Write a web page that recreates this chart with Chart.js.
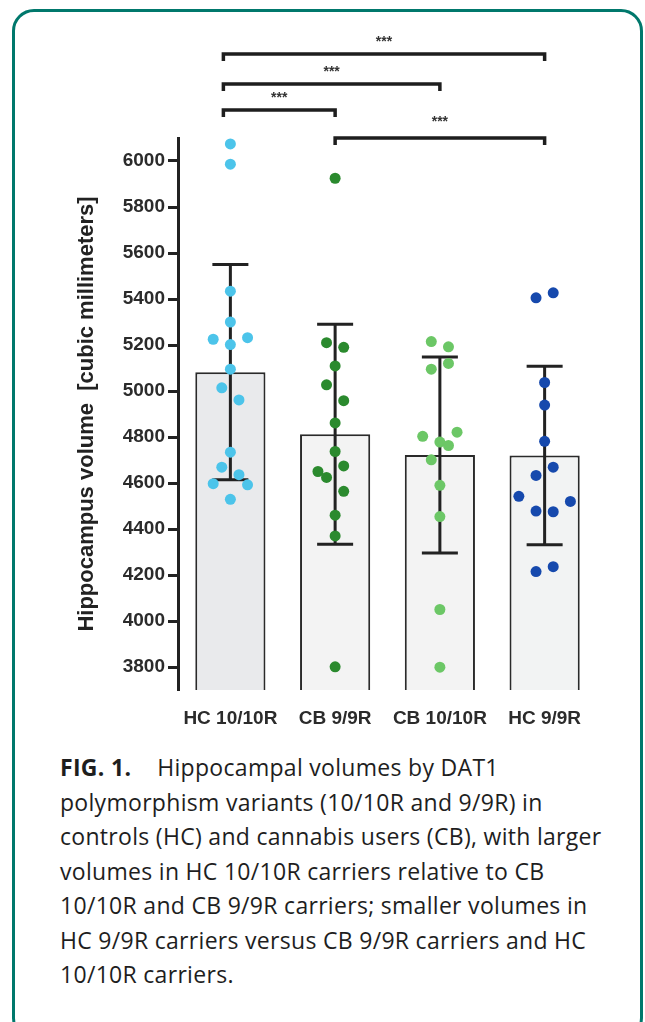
<!DOCTYPE html>
<html>
<head>
<meta charset="utf-8">
<script src="https://cdn.jsdelivr.net/npm/chart.js@4.4.0/dist/chart.umd.min.js"></script>
<style>
  body { margin: 0; background: #fff; }
  #frame { position: absolute; left: 12px; top: 9px; width: 625px; height: 1025px; border: 3px solid #00786c; border-radius: 22px; }
  #wrap { position: absolute; left: 0; top: 0; width: 645px; height: 740px; }
  #caption { position: absolute; left: 60px; top: 750px; font-family: 'Open Sans', sans-serif; font-size: 23px; letter-spacing: 0.3px; line-height: 34.5px; color: #1e1e1e; white-space: nowrap; }
  #caption b { margin-right: 26px; }
</style>
</head>
<body>
<div id="frame"></div>
<div id="wrap"><canvas id="chart" width="645" height="740"></canvas></div>
<div id="caption">
  <b>FIG. 1.</b>Hippocampal volumes by DAT1<br>
  polymorphism variants (10/10R and 9/9R) in<br>
  controls (HC) and cannabis users (CB), with larger<br>
  volumes in HC 10/10R carriers relative to CB<br>
  10/10R and CB 9/9R carriers; smaller volumes in<br>
  HC 9/9R carriers versus CB 9/9R carriers and HC<br>
  10/10R carriers.
</div>
<script>
document.addEventListener('DOMContentLoaded', () => {
    const groups = ['HC 10/10R', 'CB 9/9R', 'CB 10/10R', 'HC 9/9R'];
    const means = [5082, 4812, 4722, 4720];
    const sds = [468, 478, 426, 388];
    const yTicks = [3800, 4000, 4200, 4400, 4600, 4800, 5000, 5200, 5400, 5600, 5800, 6000];

    // individual subjects, lane = horizontal slot of the dot inside its bar
    const hc1010 = [6074, 5986, 5434, 5300, 5225, 5232, 5202, 5095, 5014, 4961, 4734, 4669, 4636, 4597, 4592, 4529];
    const hc1010Lane = [0, 0, 0, 0, -2, 2, 0, 0, -1, 1, 0, -1, 1, -2, 2, 0];
    const cb99 = [5925, 5210, 5190, 5109, 5027, 4958, 4861, 4737, 4650, 4624, 4674, 4564, 4460, 4370, 3801];
    const cb99Lane = [0, -1, 1, 0, -1, 1, 0, 0, -2, -1, 1, 1, 0, 0, 0];
    const cb1010 = [5215, 5192, 5095, 5120, 4803, 4821, 4778, 4763, 4701, 4590, 4454, 4050, 3799];
    const cb1010Lane = [-1, 1, -1, 1, -2, 2, 0, 1, -1, 0, 0, 0, 0];
    const hc99 = [5405, 5427, 5037, 4939, 4781, 4669, 4633, 4542, 4520, 4478, 4475, 4215, 4236];
    const hc99Lane = [-1, 1, 0, 0, 0, 1, -1, -3, 3, -1, 1, -1, 1];

    // significance brackets (pairs of group indexes) and their labels
    const comparisons = [[0, 3], [0, 2], [0, 1], [1, 3]];
    const pLabels = ['***', '***', '***', '***'];

    const laneStep = 0.082;
    const colors = ['#4cc4ea', '#2b8a2e', '#6cc766', '#1649ad'];
    const points = [[hc1010, hc1010Lane], [cb99, cb99Lane], [cb1010, cb1010Lane], [hc99, hc99Lane]];

    const scatterSets = points.map(([vals, lanes], i) => ({
        type: 'scatter',
        xAxisID: 'xp',
        order: 1,
        data: vals.map((v, k) => ({ x: i + lanes[k] * laneStep, y: v })),
        backgroundColor: colors[i],
        pointRadius: 5.5,
        pointBorderWidth: 0
    }));

    // error bars, drawn right after the bars so the dots stay on top
    const errorBars = {
        id: 'errorBars',
        afterDatasetDraw(chart, args) {
            if (args.index !== 0) return;
            const ctx = chart.ctx;
            const y = chart.scales.y;
            ctx.save();
            ctx.strokeStyle = '#222';
            ctx.lineWidth = 3;
            chart.getDatasetMeta(0).data.forEach((bar, i) => {
                const top = y.getPixelForValue(means[i] + sds[i]);
                const bot = y.getPixelForValue(means[i] - sds[i]);
                ctx.beginPath();
                ctx.moveTo(bar.x, top); ctx.lineTo(bar.x, bot);
                ctx.moveTo(bar.x - 18, top); ctx.lineTo(bar.x + 18, top);
                ctx.moveTo(bar.x - 18, bot); ctx.lineTo(bar.x + 18, bot);
                ctx.stroke();
            });
            ctx.restore();
        }
    };

    const brackets = {
        id: 'brackets',
        afterDraw(chart) {
            const ctx = chart.ctx;
            const xp = chart.scales.xp;
            const levels = [54, 84, 110, 138];
            ctx.save();
            ctx.strokeStyle = '#1e1e1e';
            ctx.fillStyle = '#333';
            ctx.lineWidth = 3.5;
            ctx.font = 'bold 14px "Liberation Sans"';
            ctx.textAlign = 'center';
            ctx.textBaseline = 'middle';
            comparisons.forEach(([a, b], i) => {
                const x1 = xp.getPixelForValue(a) - (a === 0 ? 7 : 0);
                const x2 = xp.getPixelForValue(b);
                const yy = levels[i];
                ctx.beginPath();
                ctx.moveTo(x1, yy + 7); ctx.lineTo(x1, yy); ctx.lineTo(x2, yy); ctx.lineTo(x2, yy + 7);
                ctx.stroke();
                ctx.fillText(pLabels[i], (x1 + x2) / 2, yy - (i === 3 ? 16 : 12));
            });
            ctx.restore();
        }
    };

    const tickFont = { family: '"Liberation Sans", Arial, sans-serif', weight: 'bold', size: 19 };

    new Chart(document.getElementById('chart'), {
        type: 'bar',
        data: {
            labels: groups,
            datasets: [{
                type: 'bar',
                order: 2,
                data: means,
                grouped: false,
                backgroundColor: ['#e9eaec', '#f3f3f3', '#f3f3f3', '#f2f3f3'],
                borderColor: '#2a2a2a',
                borderWidth: 2,
                borderSkipped: false,
                barPercentage: 0.67,
                categoryPercentage: 1
            }, ...scatterSets]
        },
        options: {
            responsive: false,
            animation: false,
            layout: { padding: { left: 0, right: 48, top: 138, bottom: 10 } },
            plugins: { legend: { display: false }, tooltip: { enabled: false } },
            scales: {
                x: {
                    grid: { display: false, drawTicks: false },
                    border: { display: false },
                    ticks: { font: tickFont, color: '#2b2b2b', padding: 17 },
                    afterFit(s) { s.height = 40; }
                },
                xp: { type: 'linear', display: false, offset: false, min: -0.5, max: 3.5 },
                y: {
                    min: 3700,
                    max: 6100,
                    afterBuildTicks(s) { s.ticks = yTicks.map(v => ({ value: v })); },
                    grid: { drawOnChartArea: false, tickLength: 10, tickWidth: 3, color: '#222' },
                    border: { width: 3, color: '#222' },
                    ticks: { font: tickFont, color: '#2b2b2b', padding: 3, callback: v => String(v) },
                    title: {
                        display: true,
                        text: 'Hippocampus volume  [cubic millimeters]',
                        font: { ...tickFont, size: 22 },
                        color: '#222',
                        padding: { top: 74 }
                    },
                    afterFit(s) { s.width = 178; }
                }
            }
        },
        plugins: [errorBars, brackets]
    });
});
</script>
</body>
</html>
